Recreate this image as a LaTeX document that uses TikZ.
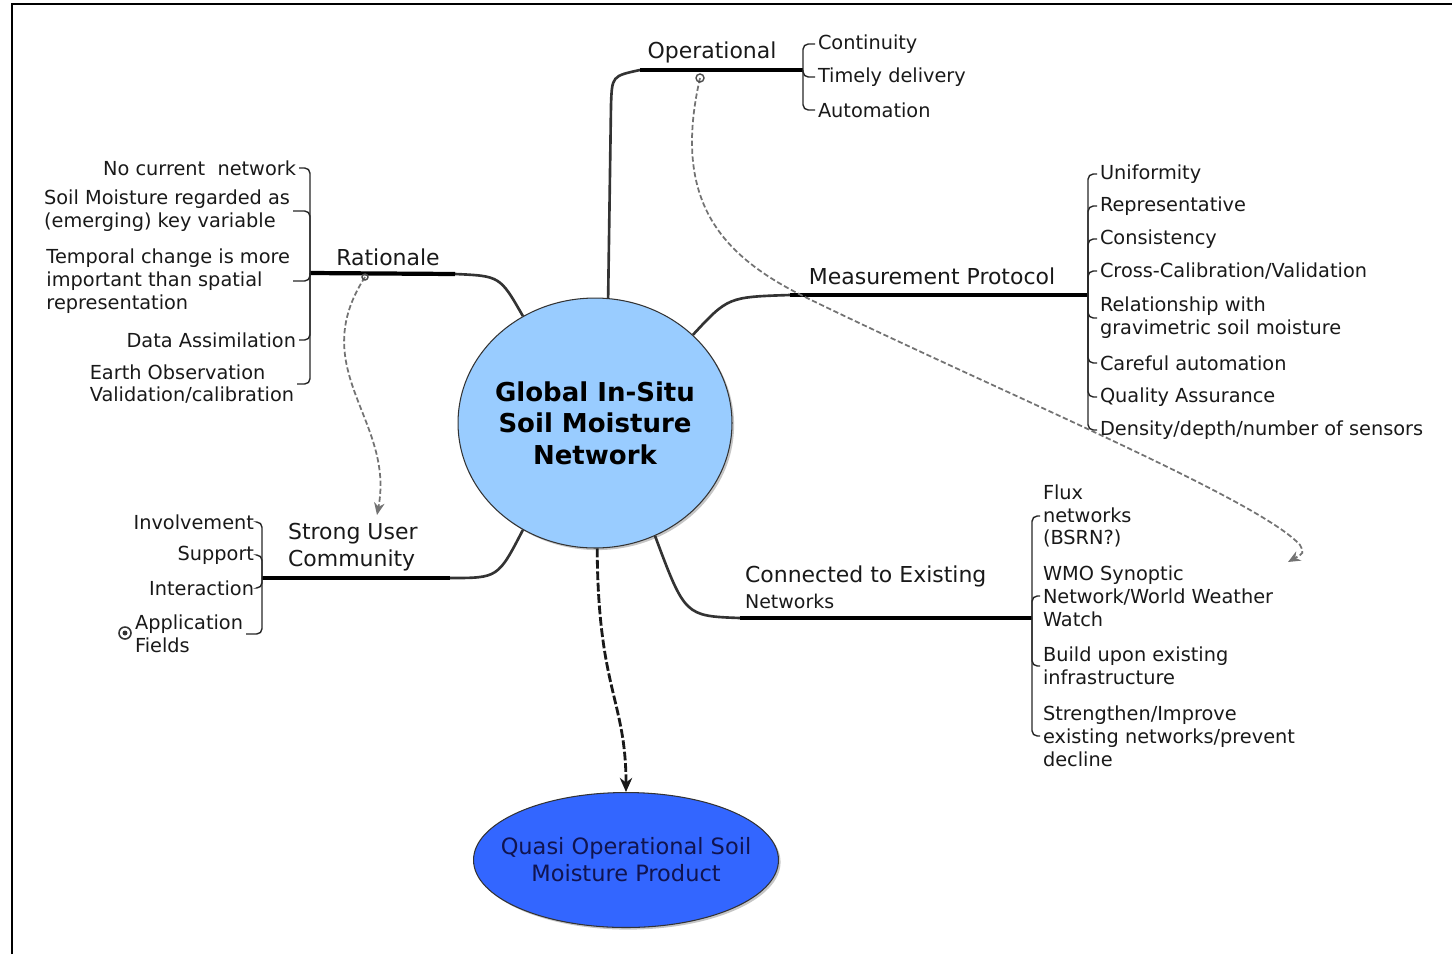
\documentclass[tikz,border=0pt]{standalone}
\usepackage{fontspec}
\setmainfont{DejaVu Sans}
\usetikzlibrary{shapes.geometric,arrows.meta,shadows,calc}
\definecolor{hubfill}{RGB}{153,204,255}
\definecolor{prodfill}{RGB}{51,102,255}
\definecolor{prodtext}{RGB}{16,20,80}
\begin{document}
\begin{tikzpicture}[x=0.02cm,y=-0.02cm,
  txt/.style={font=\fontsize{11}{13}\selectfont, text=black!90, inner sep=1.5pt, align=left},
  lbl/.style={font=\fontsize{12.5}{15}\selectfont, text=black!90, inner sep=1pt, align=left},
  brk/.style={draw=black!85, line width=0.8pt, rounded corners=3pt},
  trunk/.style={draw=black, line width=2.4pt},
  stem/.style={draw=black!80, line width=1.5pt},
  rel/.style={draw=black!55, line width=1pt, dash pattern=on 3pt off 1.5pt},
]
\useasboundingbox (0,0) rectangle (1452,954);
\draw[line width=1.7pt] (12,954) -- (12,4) -- (1452,4);

% central topic
\node[ellipse, draw=black!80, line width=0.6pt, fill=hubfill, minimum width=5.48cm,
  minimum height=5cm, inner sep=0,
  drop shadow={shadow xshift=1.2pt, shadow yshift=-1.2pt, fill=black!45}] (hub) at (595,423) {};
\node[align=center, font=\bfseries\fontsize{14.8}{18}\selectfont, inner sep=0] (hubtxt) at (hub.center)
  {Global In-Situ\\Soil Moisture\\Network};

% product
\node[ellipse, draw=black!80, line width=0.6pt, fill=prodfill, minimum width=6.1cm,
  minimum height=2.7cm, inner sep=0,
  drop shadow={shadow xshift=1.2pt, shadow yshift=-1.2pt, fill=black!45}] (prod) at (626,860) {};
\node[align=center, text=prodtext, font=\fontsize{12.8}{15.3}\selectfont, inner sep=0] (prodtxt) at (prod.center)
  {Quasi Operational Soil\\Moisture Product};

% junctions
\coordinate (jO) at (803,70);
\coordinate (jR) at (310,273);
\coordinate (jS) at (262,578);
\coordinate (jM) at (1088,295);
\coordinate (jC) at (1032,618);
\coordinate (kO) at (640,70);
\coordinate (kR) at (455,274);
\coordinate (kS) at (450,578);
\coordinate (kM) at (790,295);
\coordinate (kC) at (740,618);

% branch labels
\node[lbl] (lO) at (712,52) {Operational};
\node[lbl] (lR) at (388,257) {Rationale};
\node[lbl, anchor=west] (lS) at (286,547) {Strong User\\Community};
\node[lbl] (lM) at (932,276) {Measurement Protocol};
\node[lbl, anchor=west] (lC) at (743,587) {Connected to Existing\\{\fontsize{10.8}{13}\selectfont Networks}};

% stems and trunks
\draw[stem] (hub.84) -- (611,105) .. controls (612,76) .. (kO);
\draw[trunk] (kO) -- (jO);
\draw[stem] (hub.124) .. controls (500,276) .. (kR);
\draw[trunk] (kR) -- (jR);
\draw[stem] (hub.-124) .. controls (498,578) .. (kS);
\draw[trunk] (kS) -- (jS);
\draw[stem] (hub.42) .. controls (728,297) .. (kM);
\draw[trunk] (kM) -- (jM);
\draw[stem] (hub.-62) .. controls (685,616) .. (kC);
\draw[trunk] (kC) -- (jC);

% Operational children
\node[txt, anchor=west] (o1) at (815,44) {Continuity};
\node[txt, anchor=west] (o2) at (815,77) {Timely delivery};
\node[txt, anchor=west] (o3) at (815,110) {Automation};
\foreach \c in {o1,o2,o3} \draw[brk] (jO) |- (\c.west);

% Rationale children
\node[txt, anchor=east] (r1) at (299,168) {No current\ \ network};
\node[txt, anchor=east] (r2) at (293,211) {Soil Moisture regarded as\\(emerging) key variable};
\node[txt, anchor=east] (r3) at (293,281) {Temporal change is more\\important than spatial\\representation};
\node[txt, anchor=east] (r4) at (299,340) {Data Assimilation};
\node[txt, anchor=east] (r5) at (297,384) {Earth Observation\\Validation/calibration};
\foreach \c in {r1,r2,r3,r4,r5} \draw[brk] (jR) |- (\c.east);

% Strong User Community children
\node[txt, anchor=east] (s1) at (257,522) {Involvement};
\node[txt, anchor=east] (s2) at (257,555) {Support};
\node[txt, anchor=east] (s3) at (257,588) {Interaction};
\node[txt, anchor=east] (s4) at (246,634) {Application\\Fields};
\foreach \c in {s1,s2,s3,s4} \draw[brk] (jS) |- (\c.east);
\node[circle, draw=black!80, line width=0.9pt, minimum size=0.24cm, inner sep=0] (mk) at (125,633) {};
\fill[black!80] (mk.center) circle (2.5);

% Measurement Protocol children
\node[txt, anchor=west] (m1) at (1097,174) {Uniformity};
\node[txt, anchor=west] (m2) at (1097,206) {Representative};
\node[txt, anchor=west] (m3) at (1097,239) {Consistency};
\node[txt, anchor=west] (m4) at (1097,271) {Cross-Calibration/Validation};
\node[txt, anchor=west] (m5) at (1097,318) {Relationship with\\gravimetric soil moisture};
\node[txt, anchor=west] (m6) at (1097,363) {Careful automation};
\node[txt, anchor=west] (m7) at (1097,397) {Quality Assurance};
\node[txt, anchor=west] (m8) at (1097,430) {Density/depth/number of sensors};
\foreach \c in {m1,m2,m3,m4,m5,m6,m7,m8} \draw[brk] (jM) |- (\c.west);

% Connected to Existing Networks children
\node[txt, anchor=west] (c1) at (1040,516) {Flux\\networks\\(BSRN?)};
\node[txt, anchor=west] (c2) at (1040,596) {WMO Synoptic\\Network/World Weather\\Watch};
\node[txt, anchor=west] (c3) at (1040,666) {Build upon existing\\infrastructure};
\node[txt, anchor=west] (c4) at (1040,736) {Strengthen/Improve\\existing networks/prevent\\decline};
\foreach \c in {c1,c2,c3,c4} \draw[brk] (jC) |- (\c.west);

% relationships
\coordinate (q1) at (365,277);
\coordinate (q2) at (377,515);
\draw[rel, -{Stealth[length=7pt,width=6pt]}] (q1) .. controls (305,370) and (395,420) .. (q2);
\coordinate (p1) at (700,78);
\coordinate (p2) at (805,297);
\coordinate (p3) at (1300,545);
\coordinate (p4) at (1288,562);
\draw[rel, -{Stealth[length=7pt,width=6pt]}] (p1) .. controls (672,200) and (720,255) .. (p2)
  .. controls (1000,392) and (1260,500) .. (p3) .. controls (1304,553) .. (p4);
\draw[black!70, line width=0.8pt] (p1) circle (4);
\draw[black!70, line width=0.8pt] (q1) circle (3);

% hub to product
\draw[black!90, line width=1.6pt, dash pattern=on 5pt off 1.5pt, -{Stealth[length=8pt,width=7pt]}]
  (hub.-89) .. controls (598,690) and (626,700) .. (prod.north);
\end{tikzpicture}
\end{document}
